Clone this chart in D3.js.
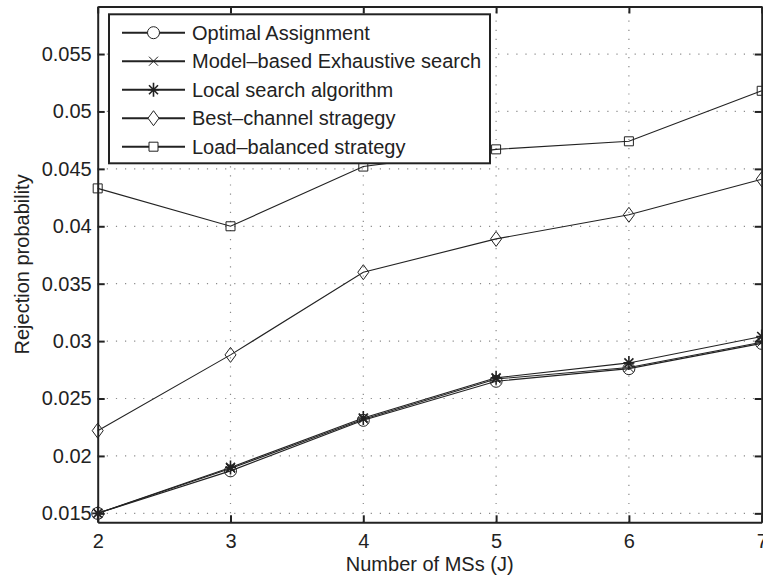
<!DOCTYPE html>
<html>
<head>
<meta charset="utf-8">
<script src="https://cdn.jsdelivr.net/npm/d3@7"></script>
<style>
  html, body { margin: 0; padding: 0; background: #fff; }
  svg { display: block; font-family: "Liberation Sans", Arial, Helvetica, sans-serif; }
</style>
</head>
<body>
<svg id="chart" width="763" height="581"></svg>
<script>
// Number of mobile stations on the x axis
const msCounts = [2, 3, 4, 5, 6, 7];

// Rejection probability for each assignment scheme
const optimalAssignment = [0.0150, 0.0187, 0.0231, 0.0265, 0.0276, 0.0298];
const modelBasedSearch  = [0.0150, 0.0189, 0.0232, 0.0267, 0.0277, 0.0299];
const localSearch       = [0.0150, 0.0190, 0.0233, 0.0268, 0.0281, 0.0304];
const bestChannel       = [0.0222, 0.0288, 0.0360, 0.0389, 0.0410, 0.0441];
const loadBalanced      = [0.0433, 0.0400, 0.0452, 0.0467, 0.0474, 0.0518];

const seriesNames = [
  "Optimal Assignment",
  "Model\u2013based Exhaustive search",
  "Local search algorithm",
  "Best\u2013channel stragegy",
  "Load\u2013balanced strategy"
];
const seriesMarkers = ["circle", "x", "star", "diamond", "square"];

const yTickValues = [0.015, 0.02, 0.025, 0.03, 0.035, 0.04, 0.045, 0.05, 0.055];
const yTickLabels = ["0.015", "0.02", "0.025", "0.03", "0.035", "0.04", "0.045", "0.05", "0.055"];
const xTickValues = [2, 3, 4, 5, 6, 7];
const yLimits = [0.01422, 0.05914];

const series = [optimalAssignment, modelBasedSearch, localSearch, bestChannel, loadBalanced]
  .map((vals, i) => ({ name: seriesNames[i], marker: seriesMarkers[i], values: vals }));

// ---- layout ----
const plot = { left: 97.7, top: 6.5, right: 761.7, bottom: 522.3 };
const ink = "#222";

const svg = d3.select("#chart");

const x = d3.scaleLinear().domain([2, 7]).range([plot.left, plot.right]);
const y = d3.scaleLinear().domain(yLimits).range([plot.bottom, plot.top]);

// ---- dotted grid ----
const grid = svg.append("g")
  .attr("stroke", "#8a8a8a")
  .attr("stroke-width", 1.2)
  .attr("stroke-dasharray", "1.2,7.9");

grid.selectAll("line.gx").data(xTickValues.slice(1, -1)).join("line")
  .attr("x1", d => x(d)).attr("x2", d => x(d))
  .attr("y1", plot.bottom).attr("y2", plot.top);

grid.selectAll("line.gy").data(yTickValues).join("line")
  .attr("x1", plot.left).attr("x2", plot.right)
  .attr("y1", d => y(d)).attr("y2", d => y(d));

// ---- axes (ticks pointing inward) ----
function styleAxis(g) {
  g.selectAll(".domain").attr("stroke", ink).attr("stroke-width", 2);
  g.selectAll(".tick line").attr("stroke", ink).attr("stroke-width", 2);
  g.selectAll(".tick text").attr("fill", ink).style("font-size", "20px");
}

const fmtY = d => yTickLabels[yTickValues.indexOf(d)];

svg.append("g")
  .attr("transform", `translate(0,${plot.bottom})`)
  .call(d3.axisBottom(x).tickValues(xTickValues).tickSizeInner(-7).tickSizeOuter(0).tickPadding(12).tickFormat(d3.format("d")))
  .call(styleAxis)
  .call(g => g.attr("font-family", null).attr("font-size", null));

svg.append("g")
  .attr("transform", `translate(0,${plot.top})`)
  .call(d3.axisTop(x).tickValues(xTickValues).tickSizeInner(-7).tickSizeOuter(0).tickFormat(""))
  .call(styleAxis);

svg.append("g")
  .attr("transform", `translate(${plot.left},0)`)
  .call(d3.axisLeft(y).tickValues(yTickValues).tickSizeInner(-7).tickSizeOuter(0).tickPadding(6).tickFormat(fmtY))
  .call(styleAxis)
  .call(g => g.attr("font-family", null).attr("font-size", null));

svg.append("g")
  .attr("transform", `translate(${plot.right},0)`)
  .call(d3.axisRight(y).tickValues(yTickValues).tickSizeInner(-7).tickSizeOuter(0).tickFormat(""))
  .call(styleAxis);

// ---- axis titles ----
svg.append("text")
  .attr("x", (plot.left + plot.right) / 2)
  .attr("y", 571)
  .attr("text-anchor", "middle")
  .attr("fill", ink)
  .style("font-size", "20px")
  .text("Number of MSs (J)");

svg.append("text")
  .attr("transform", `translate(29,${(plot.top + plot.bottom) / 2}) rotate(-90)`)
  .attr("text-anchor", "middle")
  .attr("fill", ink)
  .style("font-size", "20px")
  .text("Rejection probability");

// ---- marker shapes ----
function markerPath(kind) {
  const p = d3.path();
  switch (kind) {
    case "circle":
      p.moveTo(6, 0); p.arc(0, 0, 6, 0, 2 * Math.PI); break;
    case "square":
      p.rect(-4.5, -4.5, 9, 9); break;
    case "diamond":
      p.moveTo(0, -7.5); p.lineTo(5.5, 0); p.lineTo(0, 7.5); p.lineTo(-5.5, 0); p.closePath(); break;
    case "x":
      p.moveTo(-4.5, -4.5); p.lineTo(4.5, 4.5); p.moveTo(-4.5, 4.5); p.lineTo(4.5, -4.5); break;
    case "star":
      p.moveTo(0, -7); p.lineTo(0, 7); p.moveTo(-5.5, 0); p.lineTo(5.5, 0);
      p.moveTo(-4.5, -4.5); p.lineTo(4.5, 4.5); p.moveTo(-4.5, 4.5); p.lineTo(4.5, -4.5); break;
  }
  return p.toString();
}

// ---- series lines and markers ----
const line = d3.line().x((d, i) => x(msCounts[i])).y(d => y(d));

const drawOrder = [4, 3, 2, 1, 0];
drawOrder.forEach(si => {
  const s = series[si];
  const g = svg.append("g");
  g.append("path")
    .attr("d", line(s.values))
    .attr("fill", "none")
    .attr("stroke", ink)
    .attr("stroke-width", 1.1);
  g.selectAll("path.m").data(s.values).join("path")
    .attr("class", "m")
    .attr("transform", (d, i) => `translate(${x(msCounts[i])},${y(d)})`)
    .attr("d", markerPath(s.marker))
    .attr("fill", "none")
    .attr("stroke", ink)
    .attr("stroke-width", s.marker === "star" ? 1.6 : 1);
});

// ---- legend ----
const legend = svg.append("g");
legend.append("rect")
  .attr("x", 109).attr("y", 14.3)
  .attr("width", 381).attr("height", 149)
  .attr("fill", "#fff")
  .attr("stroke", ink)
  .attr("stroke-width", 2);

series.forEach((s, i) => {
  const ry = 32.7 + i * 28.5;
  const row = legend.append("g").attr("transform", `translate(0,${ry})`);
  row.append("line")
    .attr("x1", 122).attr("x2", 185).attr("y1", 0).attr("y2", 0)
    .attr("stroke", ink).attr("stroke-width", 2);
  row.append("path")
    .attr("transform", "translate(153.5,0)")
    .attr("d", markerPath(s.marker))
    .attr("fill", "#fff")
    .attr("stroke", ink)
    .attr("stroke-width", s.marker === "star" ? 1.6 : 1);
  row.append("text")
    .attr("x", 192).attr("y", 0).attr("dy", "0.36em")
    .attr("fill", ink)
    .style("font-size", "20px")
    .text(s.name);
});
</script>
</body>
</html>
